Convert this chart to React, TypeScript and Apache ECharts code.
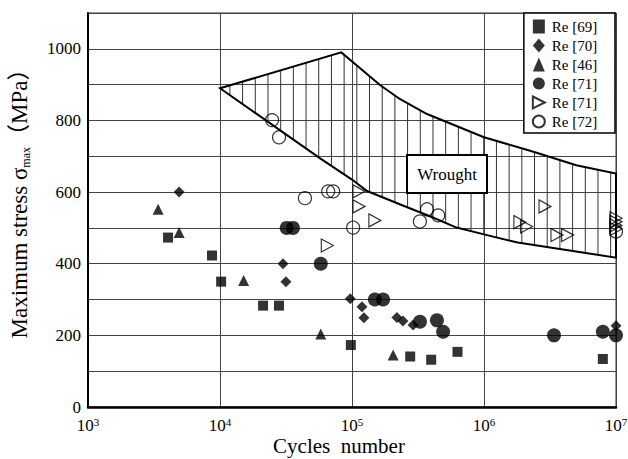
import React, { useEffect, useRef } from "react";
import * as echarts from "echarts";

const FONT = "'Liberation Serif', 'Times New Roman', 'Noto Sans CJK SC', serif";

// Reference data: [cycles, max stress MPa]
const re69: number[][] = [
  [4.04e3, 473], [8.7e3, 423], [1.02e4, 350], [2.12e4, 283], [2.8e4, 283],
  [9.8e4, 173], [2.76e5, 141], [3.98e5, 132], [6.3e5, 154], [7.95e6, 134],
];
const re70: number[][] = [
  [4.9e3, 600], [3.0e4, 400], [3.16e4, 350], [9.7e4, 302], [1.19e5, 280],
  [1.23e5, 249], [2.19e5, 250], [2.43e5, 240], [2.9e5, 229], [1e7, 227],
];
const re46: number[][] = [
  [3.4e3, 552], [4.9e3, 487], [1.51e4, 353], [5.8e4, 204], [2.05e5, 145],
];
const re71a: number[][] = [
  [3.2e4, 500], [3.57e4, 500], [5.8e4, 400], [1.49e5, 300], [1.72e5, 300],
  [3.27e5, 238], [4.4e5, 242], [4.9e5, 210], [3.39e6, 200], [7.95e6, 210], [1e7, 200],
];
const re71b: number[][] = [
  [6.5e4, 451], [1.13e5, 602], [1.13e5, 560], [1.49e5, 521], [1.87e6, 516],
  [2.1e6, 504], [2.9e6, 560], [3.57e6, 480], [4.3e6, 480],
  [1e7, 527], [1e7, 517], [1e7, 507], [1e7, 497],
];
const re72: number[][] = [
  [2.48e4, 801], [2.8e4, 753], [4.4e4, 583], [6.6e4, 602], [7.2e4, 602],
  [1.02e5, 501], [3.27e5, 518], [3.7e5, 552], [4.5e5, 535], [1e7, 490],
];

// Wrought band boundaries
const upperX = [1e4, 8.3e4, 1.63e5, 2.3e5, 3.7e5, 1e6, 2.3e6, 5e6, 1e7];
const upperY = [890, 990, 899, 860, 818, 753, 714, 675, 652];
const lowerX = [1e4, 5.7e4, 1e5, 1.3e5, 2.3e5, 4.1e5, 6.2e5, 1e6, 1.8e6, 1e7];
const lowerY = [890, 695, 635, 603, 566, 529, 501, 482, 459, 417];

const xTicks = [1e3, 1e4, 1e5, 1e6, 1e7];
const yLabels = [0, 200, 400, 600, 800, 1000];

function interpY(pts: number[][], px: number): number {
  for (let i = 0; i < pts.length - 1; i++) {
    const a = pts[i], b = pts[i + 1];
    if (px >= a[0] && px <= b[0]) {
      const t = (px - a[0]) / (b[0] - a[0] || 1);
      return a[1] + t * (b[1] - a[1]);
    }
  }
  return pts[pts.length - 1][1];
}

export default function App() {
  const ref = useRef<HTMLDivElement>(null);
  useEffect(() => {
    if (!ref.current) return;
    const chart = echarts.init(ref.current, undefined, { renderer: "svg" });
    const hollow = { color: "rgba(255,255,255,0)", borderColor: "#000", borderWidth: 1.2 };
    const solid = { color: "#000" };
    const scatterBase = { type: "scatter", clip: false, z: 5 };
    const option: any = {
      animation: false,
      backgroundColor: "#fff",
      textStyle: { fontFamily: FONT },
      grid: {
        left: 88, right: 12, top: 13, bottom: 52,
        outerBoundsMode: "none", containLabel: false,
        show: true, borderColor: "#333", borderWidth: 1,
      },
      xAxis: {
        type: "log",
        logBase: 10,
        min: xTicks[0],
        max: xTicks[xTicks.length - 1],
        axisLine: { show: true, onZero: false, lineStyle: { color: "#000", width: 2.5 } },
        axisTick: { show: false },
        splitLine: { show: true, lineStyle: { color: "#444", width: 1 } },
        axisLabel: {
          margin: 9,
          formatter: (v: number) => `{b|10}{s|${Math.round(Math.log10(v))}}`,
          rich: {
            b: { fontSize: 17, fontFamily: FONT, color: "#000", lineHeight: 19 },
            s: { fontSize: 11, fontFamily: FONT, color: "#000", verticalAlign: "top", lineHeight: 12 },
          },
        },
        name: "Cycles  number",
        nameLocation: "middle",
        nameGap: 28,
        nameMoveOverlap: false,
        nameTextStyle: { fontSize: 21, lineHeight: 22, fontFamily: FONT, color: "#000", padding: [0, 26, 0, 0] },
      },
      yAxis: {
        type: "value",
        min: 0,
        max: 1100,
        interval: 100,
        axisLine: { show: true, lineStyle: { color: "#000", width: 2 } },
        axisTick: { show: false },
        splitLine: { show: true, lineStyle: { color: "#444", width: 1 } },
        axisLabel: {
          margin: 7,
          fontSize: 17,
          fontFamily: FONT,
          color: "#000",
          formatter: (v: number) => (yLabels.indexOf(v) >= 0 ? String(v) : ""),
        },
        name: "{n|Maximum stress σ}{sub|max}{n|（MPa）}",
        nameLocation: "middle",
        nameGap: 56,
        nameMoveOverlap: false,
        nameTextStyle: {
          color: "#000",
          padding: [0, 0, 0, 24],
          rich: {
            n: { fontSize: 23, fontFamily: FONT, color: "#000", lineHeight: 26 },
            sub: { fontSize: 12, fontFamily: FONT, color: "#000", verticalAlign: "bottom", lineHeight: 26 },
          },
        },
      },
      legend: {
        orient: "vertical",
        right: 13,
        top: 13,
        backgroundColor: "#fff",
        borderColor: "#000",
        borderWidth: 1.5,
        borderRadius: 0,
        padding: [6, 14, 4, 8],
        itemGap: 4,
        itemWidth: 12,
        itemHeight: 14,
        selectedMode: false,
        textStyle: { fontSize: 15, fontFamily: FONT, color: "#000", padding: [0, 0, 0, 2] },
        data: ["Re [69]", "Re [70]", "Re [46]", "Re [71]", "Re [71] ", "Re [72]"],
      },
      series: [
        {
          type: "custom",
          name: "wrought",
          coordinateSystem: "cartesian2d",
          z: 2,
          silent: true,
          data: [[upperX[0], upperY[0]]],
          renderItem: (params: any, api: any) => {
            const up = upperX.map((x, i) => api.coord([x, upperY[i]]));
            const lo = lowerX.map((x, i) => api.coord([x, lowerY[i]]));
            const children: any[] = [];
            const x0 = up[0][0];
            const x1 = up[up.length - 1][0];
            const step = (x1 - x0) / 31.2;
            for (let px = x0 + step * 0.78; px < x1 - 1; px += step) {
              const yu = interpY(up, px);
              const yl = interpY(lo, px);
              children.push({
                type: "line",
                shape: { x1: px, y1: yu, x2: px, y2: yl },
                style: { stroke: "#333", lineWidth: 1 },
              });
            }
            const poly = up.concat(lo.slice().reverse());
            children.push({
              type: "polygon",
              shape: { points: poly },
              style: { fill: "none", stroke: "#000", lineWidth: 2 },
            });
            return { type: "group", children };
          },
        },
        { ...scatterBase, name: "Re [69]", symbol: "rect", symbolSize: 10, itemStyle: solid, data: re69 },
        { ...scatterBase, name: "Re [70]", symbol: "diamond", symbolSize: 11, itemStyle: solid, data: re70 },
        { ...scatterBase, name: "Re [46]", symbol: "triangle", symbolSize: 11, itemStyle: solid, data: re46 },
        { ...scatterBase, name: "Re [71]", symbol: "circle", symbolSize: 14, itemStyle: solid, data: re71a },
        {
          ...scatterBase,
          name: "Re [71] ",
          symbol: "path://M0,0L10,5L0,10Z",
          symbolSize: [12, 13],
          itemStyle: hollow,
          data: re71b,
        },
        { ...scatterBase, name: "Re [72]", symbol: "circle", symbolSize: 13, itemStyle: hollow, data: re72 },
      ],
      graphic: [
        {
          type: "group",
          left: 406,
          top: 154,
          z: 100,
          children: [
            {
              type: "rect",
              shape: { x: 0, y: 0, width: 80, height: 38 },
              style: { fill: "#fff", stroke: "#000", lineWidth: 2 },
              z: 100,
            },
            {
              type: "text",
              x: 40,
              y: 19,
              z: 101,
              style: {
                text: "Wrought",
                fontSize: 17,
                fontFamily: FONT,
                fill: "#000",
                align: "center",
                verticalAlign: "middle",
              },
            },
          ],
        },
      ],
    };
    chart.setOption(option);
    return () => chart.dispose();
  }, []);
  return <div ref={ref} style={{ width: 628, height: 459, position: "absolute", left: 0, top: 0 }} />;
}
